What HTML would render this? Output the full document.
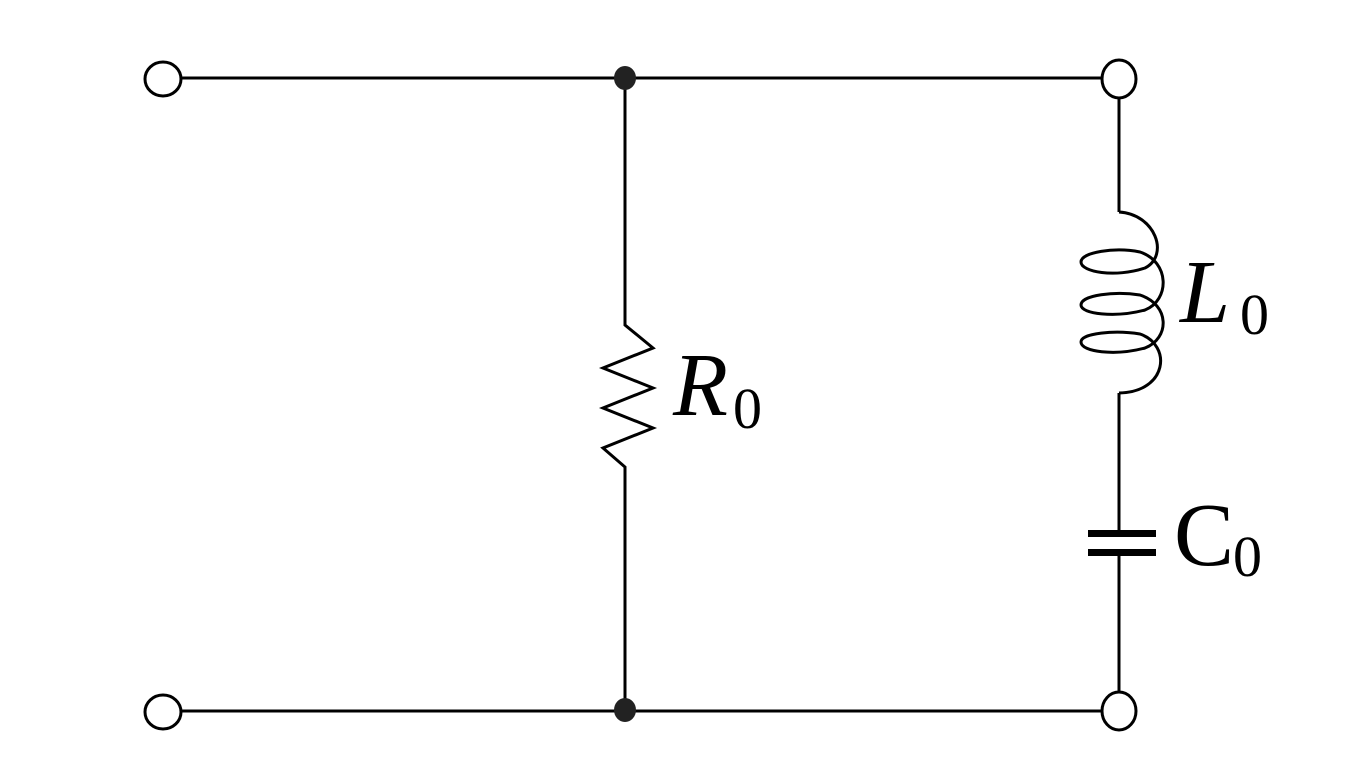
<!DOCTYPE html>
<html><head><style>html,body{margin:0;padding:0;background:#fff;width:1353px;height:775px;overflow:hidden}</style></head>
<body>
<svg width="1353" height="775" viewBox="0 0 1353 775" xmlns="http://www.w3.org/2000/svg">
<g stroke="#000" stroke-width="3" fill="none">
<line x1="181" y1="78" x2="1102" y2="78"/>
<line x1="181" y1="711" x2="1102" y2="711"/>
<polyline points="625,78 625,325 653,348 603,368 653,388 603,408 653,428 603,448 625,467 625,711"/>
<line x1="1119" y1="98" x2="1119" y2="212"/>
<path d="M1119,212 C1155,214 1170,255 1145,268 C1115,278 1081,272 1081,262 C1081,252 1115,247 1140,252 C1170,262 1170,300 1145,310 C1115,318 1081,314 1081,305 C1081,295 1115,291 1140,295 C1170,305 1170,338 1145,348 C1115,356 1081,352 1081,342 C1081,333 1115,330 1140,334 C1172,345 1168,392 1119,393"/>
<line x1="1119" y1="393" x2="1119" y2="533"/>
<line x1="1119" y1="552" x2="1119" y2="692"/>
<ellipse cx="163" cy="79" rx="18" ry="17"/>
<ellipse cx="163" cy="712" rx="18" ry="17"/>
<ellipse cx="1119" cy="79" rx="17" ry="19"/>
<ellipse cx="1119" cy="711" rx="17" ry="19"/>
</g>
<rect x="1088" y="530" width="68" height="7" fill="#000"/>
<rect x="1088" y="549" width="68" height="7" fill="#000"/>
<ellipse cx="625" cy="78" rx="11" ry="12" fill="#222"/>
<ellipse cx="625" cy="710" rx="11" ry="12" fill="#222"/>
<g font-family="Liberation Serif, serif" fill="#000">
<text x="673" y="415" font-size="90" font-style="italic">R</text>
<text x="733" y="428" font-size="58">0</text>
<text x="1180" y="322" font-size="90" font-style="italic">L</text>
<text x="1240" y="334" font-size="58">0</text>
<text x="1174" y="565" font-size="90">C</text>
<text x="1233" y="576" font-size="58">0</text>
</g>
</svg>
</body></html>
